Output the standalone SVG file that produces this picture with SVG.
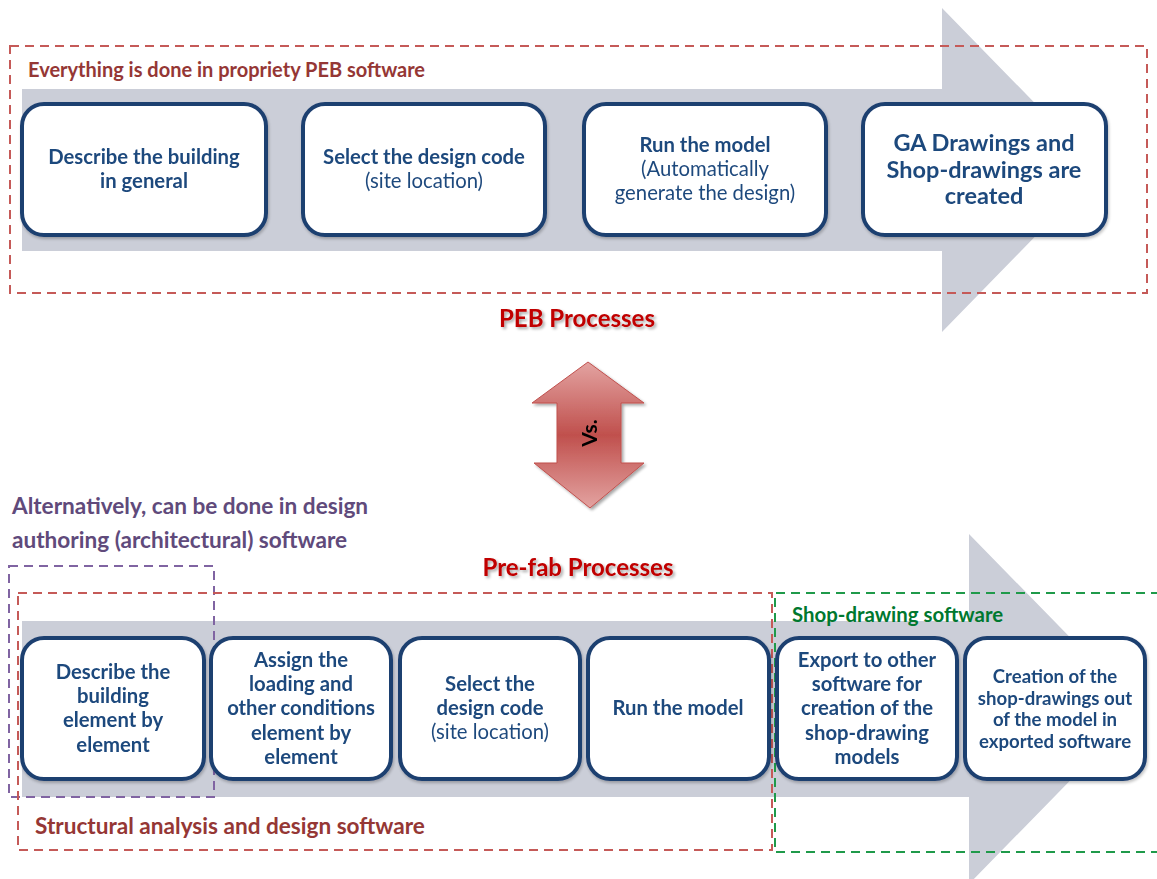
<svg xmlns="http://www.w3.org/2000/svg" width="1157" height="879" viewBox="0 0 1157 879">
  <defs>
    <style>
      .band { fill: #CBCED8; }
      .box { fill: #FFFFFF; stroke: #1F3F70; stroke-width: 4; }
      .t { font-family: Lato, "Open Sans", sans-serif; fill: #1F497D; text-anchor: middle; }
      .b { font-weight: bold; }
      .n { font-weight: normal; }
      .f17 { font-size: 20.3px; }
      .f20 { font-size: 23.5px; }
      .f16 { font-size: 18.6px; }
      .dash-red { fill: none; stroke: #C55A58; stroke-width: 2; stroke-dasharray: 9 6; }
      .dash-purple { fill: none; stroke: #8064A2; stroke-width: 2; stroke-dasharray: 9 6; }
      .dash-green { fill: none; stroke: #1F9A4A; stroke-width: 2; stroke-dasharray: 9 6; }
      .cap { font-family: Lato, "Open Sans", sans-serif; font-weight: bold; }
      .title { font-family: Lato, "Open Sans", sans-serif; font-weight: bold; font-size: 24px; fill: #C00000; text-anchor: middle; }
    </style>
    <filter id="soft" x="-10%" y="-30%" width="120%" height="160%">
      <feGaussianBlur in="SourceAlpha" stdDeviation="1.5"/>
      <feOffset dx="2" dy="2" result="s"/>
      <feComponentTransfer><feFuncA type="linear" slope="0.35"/></feComponentTransfer>
      <feMerge><feMergeNode/><feMergeNode in="SourceGraphic"/></feMerge>
    </filter>
    <filter id="boxshadow" x="-5%" y="-5%" width="112%" height="115%">
      <feGaussianBlur in="SourceAlpha" stdDeviation="1.5"/>
      <feOffset dx="1" dy="2"/>
      <feComponentTransfer><feFuncA type="linear" slope="0.25"/></feComponentTransfer>
      <feMerge><feMergeNode/><feMergeNode in="SourceGraphic"/></feMerge>
    </filter>
    <linearGradient id="vsfill" x1="0" y1="0" x2="0" y2="1">
      <stop offset="0" stop-color="#E3A3A1"/>
      <stop offset="0.5" stop-color="#C0504D"/>
      <stop offset="1" stop-color="#E3A3A1"/>
    </linearGradient>
  </defs>

  <!-- Upper process band -->
  <g id="peb-band">
    <path class="band" d="M22,89 H942 V8 L1100,170 L942,332 V251 H22 Z"/>
  </g>

  <!-- Lower process band -->
  <g id="prefab-band">
    <path class="band" d="M22,621 H969 V534 L1140,709 L969,884 V797 H22 Z"/>
  </g>

  <!-- Group frames -->
  <g id="frames">
    <rect id="peb-frame" class="dash-red" x="10" y="46" width="1137" height="247"/>
    <rect id="arch-frame" class="dash-purple" x="9" y="566" width="205" height="231"/>
    <rect id="struct-frame" class="dash-red" x="18" y="593" width="754" height="257"/>
    <path id="shop-frame" class="dash-green" d="M1160,593 H775 V852 H1160"/>
  </g>

  <!-- Captions -->
  <text id="cap-peb" class="cap" x="28" y="77" font-size="20" fill="#953735">Everything is done in propriety PEB software</text>
  <text id="title-peb" class="title" x="577" y="327" filter="url(#soft)">PEB Processes</text>
  <g id="cap-arch" class="cap" font-size="22.6" fill="#604A7B">
    <text x="12" y="514">Alternatively, can be done in design</text>
    <text x="12" y="548">authoring (architectural) software</text>
  </g>
  <text id="title-prefab" class="title" x="578" y="576" filter="url(#soft)">Pre-fab Processes</text>
  <text id="cap-shop" class="cap" x="792" y="622" font-size="20.4" fill="#00782F">Shop-drawing software</text>
  <text id="cap-struct" class="cap" x="35" y="834" font-size="22.6" fill="#953735">Structural analysis and design software</text>

  <!-- Versus marker -->
  <g id="vs" filter="url(#soft)">
    <path d="M588,362 L644,403 H621 V463 H644 L590,508 L534,463 H557 V403 H532 Z" fill="url(#vsfill)" stroke="#C0504D" stroke-width="1"/>
    <text x="0" y="0" transform="translate(597,433) rotate(-90)" font-family="Lato, 'Open Sans', sans-serif" font-weight="bold" font-size="21" fill="#000000" text-anchor="middle">Vs.</text>
  </g>

  <!-- PEB steps -->
  <g id="peb1" filter="url(#boxshadow)">
    <rect class="box" x="22" y="104" width="244" height="131" rx="22"/>
    <text class="t b f17" x="144" y="164">Describe the building</text>
    <text class="t b f17" x="144" y="188">in general</text>
  </g>
  <g id="peb2" filter="url(#boxshadow)">
    <rect class="box" x="303" y="104" width="242" height="131" rx="22"/>
    <text class="t b f17" x="424" y="164">Select the design code</text>
    <text class="t n f17" x="424" y="188">(site location)</text>
  </g>
  <g id="peb3" filter="url(#boxshadow)">
    <rect class="box" x="584" y="104" width="242" height="131" rx="22"/>
    <text class="t b f17" x="705" y="152">Run the model</text>
    <text class="t n f17" x="705" y="176">(Automatically</text>
    <text class="t n f17" x="705" y="200">generate the design)</text>
  </g>
  <g id="peb4" filter="url(#boxshadow)">
    <rect class="box" x="863" y="104" width="243" height="131" rx="22"/>
    <text class="t b f20" x="984" y="151">GA Drawings and</text>
    <text class="t b f20" x="984" y="178">Shop-drawings are</text>
    <text class="t b f20" x="984" y="204">created</text>
  </g>

  <!-- Pre-fab steps -->
  <g id="pf1" filter="url(#boxshadow)">
    <rect class="box" x="22" y="638" width="182" height="141" rx="22"/>
    <text class="t b f17" x="113" y="679">Describe the</text>
    <text class="t b f17" x="113" y="703">building</text>
    <text class="t b f17" x="113" y="727">element by</text>
    <text class="t b f17" x="113" y="752">element</text>
  </g>
  <g id="pf2" filter="url(#boxshadow)">
    <rect class="box" x="211" y="638" width="180" height="141" rx="22"/>
    <text class="t b f17" x="301" y="667">Assign the</text>
    <text class="t b f17" x="301" y="691">loading and</text>
    <text class="t b f17" x="301" y="715">other conditions</text>
    <text class="t b f17" x="301" y="740">element by</text>
    <text class="t b f17" x="301" y="764">element</text>
  </g>
  <g id="pf3" filter="url(#boxshadow)">
    <rect class="box" x="400" y="638" width="180" height="141" rx="22"/>
    <text class="t b f17" x="490" y="691">Select the</text>
    <text class="t b f17" x="490" y="715">design code</text>
    <text class="t n f17" x="490" y="739">(site location)</text>
  </g>
  <g id="pf4" filter="url(#boxshadow)">
    <rect class="box" x="588" y="638" width="181" height="141" rx="22"/>
    <text class="t b f17" x="678" y="715">Run the model</text>
  </g>
  <g id="pf5" filter="url(#boxshadow)">
    <rect class="box" x="777" y="638" width="180" height="141" rx="22"/>
    <text class="t b f17" x="867" y="667">Export to other</text>
    <text class="t b f17" x="867" y="691">software for</text>
    <text class="t b f17" x="867" y="715">creation of the</text>
    <text class="t b f17" x="867" y="740">shop-drawing</text>
    <text class="t b f17" x="867" y="764">models</text>
  </g>
  <g id="pf6" filter="url(#boxshadow)">
    <rect class="box" x="965" y="638" width="180" height="141" rx="22"/>
    <text class="t b f16" x="1055" y="683">Creation of the</text>
    <text class="t b f16" x="1055" y="705">shop-drawings out</text>
    <text class="t b f16" x="1055" y="726">of the model in</text>
    <text class="t b f16" x="1055" y="748">exported software</text>
  </g>
</svg>
